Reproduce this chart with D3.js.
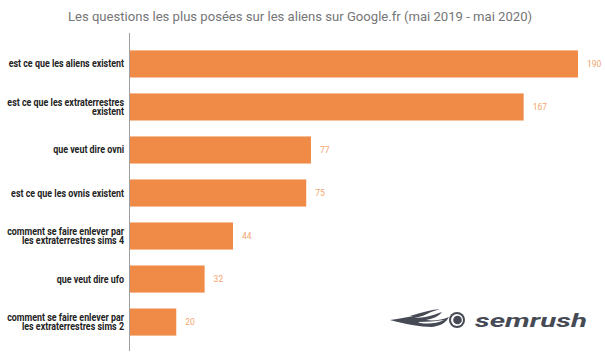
<!DOCTYPE html>
<html><head><meta charset="utf-8">
<script src="https://cdn.jsdelivr.net/npm/d3@7"></script>
<style>body{margin:0;background:#fff}svg{display:block}</style>
</head><body>
<script>
const titleText = "Les questions les plus posées sur les aliens sur Google.fr (mai 2019 - mai 2020)";
const categories = [
  ["est ce que les aliens existent"],
  ["est ce que les extraterrestres", "existent"],
  ["que veut dire ovni"],
  ["est ce que les ovnis existent"],
  ["comment se faire enlever par", "les extraterrestres sims 4"],
  ["que veut dire ufo"],
  ["comment se faire enlever par", "les extraterrestres sims 2"]
];
const values = [190, 167, 77, 75, 44, 32, 20];

const W = 605, H = 358;
const svg = d3.select("body").append("svg").attr("width", W).attr("height", H);

svg.append("text").attr("x", 300).attr("y", 21).attr("text-anchor", "middle")
  .attr("font-family", "Roboto").attr("font-size", 13.1).attr("fill", "#757575").text(titleText);

const x = d3.scaleLinear().domain([0, 190]).range([129, 578]);
const y = d3.scaleBand().domain(d3.range(values.length)).range([36, 350]).paddingInner(0.37).paddingOuter(0.335);

svg.selectAll("rect.bar").data(values).join("rect").attr("class", "bar")
  .attr("x", x(0)).attr("y", (d, i) => y(i)).attr("width", d => x(d) - x(0)).attr("height", y.bandwidth())
  .attr("fill", "#f08b47");

svg.selectAll("text.val").data(values).join("text").attr("class", "val")
  .attr("x", d => x(d) + 9).attr("y", (d, i) => y(i) + y.bandwidth() / 2 + 3)
  .attr("font-family", "Roboto").attr("font-size", 8.5).attr("fill", "#f3a46f").text(d => d);

const labels = svg.selectAll("text.cat").data(categories).join("text").attr("class", "cat")
  .attr("x", 124).attr("text-anchor", "end")
  .attr("font-family", "Roboto").attr("font-weight", "bold").attr("font-size", 10).attr("fill", "#222");
labels.each(function(lines, i) {
  const t = d3.select(this);
  const cy = y(i) + y.bandwidth() / 2;
  const lh = 9.6;
  const start = cy - (lines.length - 1) * lh / 2 + 3.5;
  lines.forEach((l, j) => {
    const ts = t.append("tspan").attr("x", 124).attr("y", start + j * lh).text(l);
    const w = ts.node().getComputedTextLength();
    ts.attr("textLength", w * 0.89).attr("lengthAdjust", "spacingAndGlyphs");
  });
});

svg.append("line").attr("x1", 129.5).attr("x2", 129.5).attr("y1", 33).attr("y2", 351)
  .attr("stroke", "#9e9e9e").attr("stroke-width", 1);

// SEMrush logo
const logo = svg.append("g").attr("fill", "#464a54");
logo.append("path").attr("d", "M390,320 C405,318 420,315 432,311 C426,315 420,317 414,318 C424,318 434,315 442,312 C438,317 432,319 426,320 C434,321 442,320 449,317 C446,323 440,326 432,327 C420,327 405,324 390,320 Z");
logo.append("path").attr("d", "M410,316 C420,313 430,310 440,309 C432,312 424,314 416,316 Z");
logo.append("path").attr("d", "M418,322 C428,322 436,321 444,320 C436,324 428,324 420,323 Z").attr("fill", "#fff");
logo.append("circle").attr("cx", 457).attr("cy", 320).attr("r", 8);
logo.append("circle").attr("cx", 457).attr("cy", 320).attr("r", 6).attr("fill", "#fff");
logo.append("circle").attr("cx", 457.5).attr("cy", 320).attr("r", 4.3).attr("fill", "#464a54");
logo.append("text").attr("x", 475).attr("y", 327).attr("font-family", "Roboto").attr("font-weight", "bold")
  .attr("font-style", "italic").attr("font-size", 19).attr("textLength", 112).attr("lengthAdjust", "spacingAndGlyphs")
  .text("semrush");
</script>
</body></html>
